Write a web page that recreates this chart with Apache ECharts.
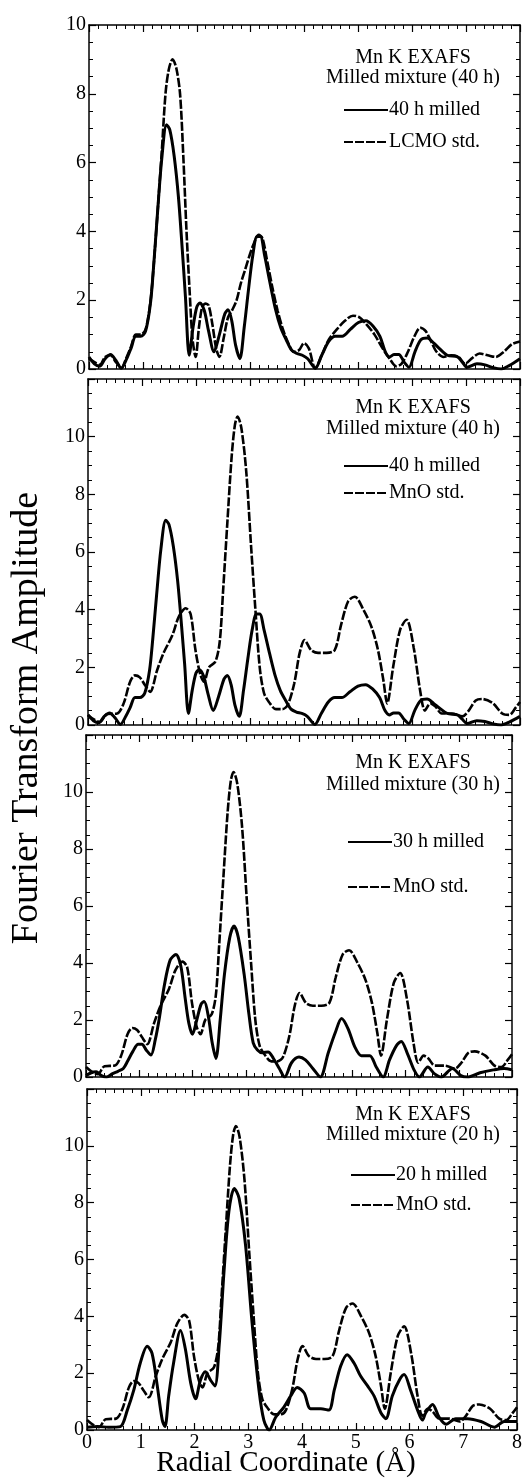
<!DOCTYPE html>
<html>
<head>
<meta charset="utf-8">
<script src="https://cdn.jsdelivr.net/npm/echarts@6/dist/echarts.min.js"></script>
<style>
    html, body {margin: 0; padding: 0; background: #fff;}
    #chart {width: 527px; height: 1480px;}
</style>
</head>
<body>
<div id="chart"></div>
<script>
// radial coordinate (Å), FT amplitude pairs
const milled40 = [[0,0.35],[0.1,0.15],[0.2,0.08],[0.3,0.3],[0.4,0.42],[0.5,0.25],[0.6,0.02],[0.7,0.3],[0.78,0.6],[0.87,0.95],[0.96,0.95],[1.05,1.1],[1.14,1.9],[1.2,3.0],[1.27,4.5],[1.35,6.1],[1.44,7.1],[1.5,6.95],[1.58,6.2],[1.66,5.0],[1.73,3.5],[1.79,2.1],[1.86,0.4],[1.93,1.2],[2.0,1.8],[2.06,1.92],[2.14,1.7],[2.22,1.1],[2.32,0.5],[2.42,1.0],[2.52,1.6],[2.58,1.72],[2.65,1.4],[2.72,0.7],[2.8,0.3],[2.88,1.2],[2.96,2.3],[3.04,3.3],[3.12,3.85],[3.18,3.85],[3.26,3.3],[3.36,2.5],[3.46,1.75],[3.56,1.2],[3.66,0.85],[3.76,0.55],[3.86,0.45],[3.96,0.4],[4.06,0.3],[4.2,0.02],[4.32,0.4],[4.45,0.8],[4.57,0.95],[4.7,0.95],[4.85,1.15],[5.0,1.35],[5.14,1.4],[5.27,1.25],[5.4,0.95],[5.5,0.5],[5.58,0.35],[5.66,0.42],[5.75,0.42],[5.85,0.2],[5.94,0.05],[6.05,0.5],[6.16,0.85],[6.28,0.9],[6.4,0.75],[6.5,0.6],[6.65,0.4],[6.84,0.35],[6.93,0.2],[7.02,0.05],[7.2,0.15],[7.35,0.12],[7.5,0.04],[7.65,0.0],[7.8,0.1],[8,0.3]];

const lcmoStd = [[0,0.3],[0.1,0.2],[0.2,0.12],[0.3,0.35],[0.4,0.4],[0.5,0.2],[0.6,0.04],[0.7,0.35],[0.78,0.65],[0.87,1.0],[0.96,1.0],[1.05,1.15],[1.14,1.95],[1.2,3.0],[1.27,4.5],[1.35,6.3],[1.42,8.0],[1.48,8.7],[1.55,9.0],[1.62,8.75],[1.69,8.0],[1.75,6.2],[1.81,4.0],[1.87,2.2],[1.92,0.9],[1.98,0.35],[2.04,1.2],[2.1,1.8],[2.16,1.9],[2.22,1.85],[2.29,1.3],[2.36,0.6],[2.42,0.35],[2.5,0.9],[2.58,1.5],[2.66,1.72],[2.74,2.0],[2.82,2.5],[2.9,2.9],[2.98,3.3],[3.06,3.65],[3.15,3.9],[3.22,3.8],[3.3,3.2],[3.4,2.4],[3.5,1.7],[3.6,1.15],[3.7,0.75],[3.8,0.5],[3.9,0.55],[3.99,0.75],[4.08,0.6],[4.2,0.02],[4.32,0.4],[4.45,0.85],[4.6,1.15],[4.75,1.4],[4.9,1.55],[5.02,1.5],[5.15,1.3],[5.3,1.0],[5.45,0.6],[5.58,0.3],[5.7,0.08],[5.8,0.15],[5.92,0.5],[6.04,0.95],[6.15,1.2],[6.25,1.1],[6.35,0.8],[6.45,0.5],[6.58,0.35],[6.72,0.4],[6.86,0.35],[6.98,0.15],[7.1,0.3],[7.25,0.45],[7.4,0.4],[7.55,0.35],[7.7,0.5],[7.85,0.72],[8,0.8]];

const mnoStd = [[0,0.35],[0.1,0.2],[0.22,0.1],[0.35,0.38],[0.54,0.4],[0.66,0.75],[0.78,1.5],[0.87,1.72],[0.96,1.65],[1.05,1.4],[1.15,1.15],[1.28,1.9],[1.4,2.5],[1.56,3.1],[1.68,3.75],[1.81,4.05],[1.9,3.85],[1.99,2.6],[2.08,1.75],[2.15,1.5],[2.24,2.0],[2.36,2.2],[2.44,2.9],[2.5,4.6],[2.58,7.0],[2.66,9.3],[2.72,10.4],[2.77,10.7],[2.84,10.3],[2.93,8.8],[3.02,6.2],[3.1,4.0],[3.18,2.0],[3.26,1.1],[3.35,0.8],[3.48,0.55],[3.6,0.55],[3.7,0.7],[3.82,1.45],[3.92,2.5],[4.01,2.95],[4.13,2.6],[4.26,2.5],[4.42,2.5],[4.57,2.6],[4.69,3.5],[4.82,4.3],[4.94,4.45],[5.1,4.0],[5.25,3.4],[5.37,2.6],[5.47,1.55],[5.54,0.75],[5.65,2.0],[5.78,3.3],[5.9,3.65],[6.03,2.7],[6.15,1.2],[6.24,0.5],[6.34,0.75],[6.43,0.65],[6.55,0.4],[6.74,0.4],[6.93,0.3],[7.05,0.5],[7.18,0.85],[7.3,0.9],[7.5,0.75],[7.67,0.4],[7.8,0.35],[7.92,0.6],[8,0.8]];

const milled30 = [[0,0.05],[0.1,0.15],[0.19,0.18],[0.29,0.05],[0.39,0.0],[0.5,0.12],[0.6,0.2],[0.7,0.3],[0.78,0.55],[0.88,0.9],[0.98,1.15],[1.05,1.15],[1.13,0.95],[1.22,0.77],[1.3,1.3],[1.38,2.1],[1.47,3.2],[1.58,4.1],[1.69,4.3],[1.78,3.9],[1.86,2.8],[1.93,1.9],[2.0,1.5],[2.08,2.0],[2.16,2.55],[2.22,2.65],[2.3,2.1],[2.37,1.2],[2.44,0.65],[2.52,2.0],[2.6,3.6],[2.7,4.9],[2.78,5.3],[2.86,4.9],[2.97,3.6],[3.06,2.2],[3.14,1.2],[3.22,0.95],[3.31,0.85],[3.42,0.88],[3.52,0.65],[3.63,0.3],[3.73,0.0],[3.86,0.5],[4.0,0.7],[4.12,0.6],[4.26,0.3],[4.4,0.0],[4.55,0.85],[4.68,1.55],[4.8,2.05],[4.92,1.7],[5.05,1.05],[5.17,0.75],[5.33,0.75],[5.45,0.35],[5.58,0.0],[5.7,0.6],[5.83,1.1],[5.92,1.25],[6.04,0.8],[6.16,0.25],[6.26,0.0],[6.42,0.35],[6.54,0.12],[6.67,0.0],[6.88,0.3],[7.04,0.05],[7.16,0.0],[7.4,0.15],[7.65,0.25],[7.85,0.3],[8,0.25]];

const milled20 = [[0,0.1],[0.2,0.12],[0.4,0.1],[0.62,0.12],[0.75,0.7],[0.87,1.4],[0.99,2.35],[1.12,2.95],[1.21,2.7],[1.3,1.65],[1.4,0.35],[1.45,0.12],[1.52,1.2],[1.61,2.35],[1.74,3.5],[1.83,2.85],[1.93,1.65],[2.02,1.1],[2.11,1.75],[2.2,2.05],[2.3,1.75],[2.38,1.55],[2.46,3.0],[2.55,5.6],[2.64,7.7],[2.74,8.5],[2.83,8.15],[2.95,6.5],[3.07,3.8],[3.2,1.4],[3.29,0.35],[3.39,0.0],[3.51,0.45],[3.66,0.8],[3.79,1.2],[3.91,1.5],[4.04,1.3],[4.16,0.75],[4.35,0.75],[4.5,0.7],[4.6,1.4],[4.72,2.25],[4.84,2.65],[4.97,2.35],[5.09,1.9],[5.22,1.55],[5.34,1.2],[5.47,0.6],[5.56,0.4],[5.68,1.2],[5.81,1.75],[5.9,1.95],[6.02,1.4],[6.15,0.7],[6.24,0.35],[6.3,0.6],[6.43,0.9],[6.55,0.45],[6.68,0.2],[6.86,0.4],[7.08,0.4],[7.33,0.3],[7.58,0.1],[7.76,0.3],[8,0.3]];

const xTicks = [0, 1, 2, 3, 4, 5, 6, 7, 8];
const panelTitles = ['Mn K EXAFS\nMilled mixture (40 h)', 'Mn K EXAFS\nMilled mixture (40 h)',
    'Mn K EXAFS\nMilled mixture (30 h)', 'Mn K EXAFS\nMilled mixture (20 h)'];
const sampleNames = ['40 h milled', '40 h milled', '30 h milled', '20 h milled'];
const stdNames = ['LCMO std.', 'MnO std.', 'MnO std.', 'MnO std.'];
const sampleData = [milled40, milled40, milled30, milled20];
const stdData = [lcmoStd, mnoStd, mnoStd, mnoStd];
const yMax = [10, 12, 12, 12];

// panel boxes in pixels
const panels = [
    {left: 89, right: 7, top: 25, height: 344, titleY: 48, lh: 20, legTop: 100, legGap: 12, legLeft: 343},
    {left: 88, right: 7, top: 379, height: 346, titleY: 397, lh: 21, legTop: 456, legGap: 7, legLeft: 343},
    {left: 86, right: 15, top: 735, height: 342, titleY: 752, lh: 22, legTop: 832, legGap: 25, legLeft: 347},
    {left: 87, right: 10, top: 1089, height: 341, titleY: 1105, lh: 20, legTop: 1165, legGap: 10, legLeft: 350},
];

const FONT = '"Liberation Serif", "Times New Roman", serif';
const black = '#000';

let grid = [], xAxis = [], yAxis = [], series = [], legend = [], graphic = [];

let tick = () => ({show: true, inside: true, length: 7, lineStyle: {color: black, width: 1.2}});
let minor = (n) => ({show: true, splitNumber: n, length: 4, lineStyle: {color: black, width: 1}});
let line = () => ({show: true, onZero: false, lineStyle: {color: black, width: 1.5}});

panels.forEach((p, i) => {
    grid.push({left: p.left, right: p.right, top: p.top, height: p.height});
    ['bottom', 'top'].forEach(pos => {
        xAxis.push({
            gridIndex: i, type: 'value', position: pos, min: 0, max: 8, interval: 1,
            axisLine: line(), axisTick: tick(), minorTick: minor(6), splitLine: {show: false},
            axisLabel: {
                show: pos === 'bottom' && i === 3, margin: 3, color: black, fontSize: 20, fontFamily: FONT,
                formatter: v => xTicks.indexOf(v) >= 0 ? String(v) : ''
            }
        });
    });
    ['left', 'right'].forEach(pos => {
        yAxis.push({
            gridIndex: i, type: 'value', position: pos, min: 0, max: yMax[i], interval: 2,
            axisLine: line(), axisTick: tick(), minorTick: minor(4), splitLine: {show: false},
            axisLabel: {
                show: pos === 'left', margin: 3, color: black, fontSize: 20, fontFamily: FONT,
                formatter: v => v > 10 ? '' : String(v)
            }
        });
    });
    series.push({
        name: sampleNames[i], type: 'line', xAxisIndex: 2 * i, yAxisIndex: 2 * i,
        data: sampleData[i], smooth: 0.3, symbol: 'none', z: 3, color: black,
        lineStyle: {color: black, width: 3}
    });
    series.push({
        name: stdNames[i], type: 'line', xAxisIndex: 2 * i, yAxisIndex: 2 * i,
        data: stdData[i], smooth: 0.3, symbol: 'none', z: 2, color: black,
        lineStyle: {color: black, width: 2.6, type: [9, 2]}
    });
    legend.push({
        data: [sampleNames[i], stdNames[i]], orient: 'vertical', left: p.legLeft, top: p.legTop,
        itemGap: p.legGap, itemWidth: 44, itemHeight: 12, padding: 0, selectedMode: false,
        itemStyle: {opacity: 0},
        textStyle: {color: black, fontSize: 20, fontFamily: FONT, lineHeight: 20, padding: [0, 0, 0, -4]}
    });
    graphic.push({
        type: 'text', x: 413, y: p.titleY,
        style: {text: panelTitles[i], fill: black, fontSize: 20, fontFamily: FONT,
            align: 'center', verticalAlign: 'top', lineHeight: p.lh}
    });
});

graphic.push({
    type: 'text', x: 27, y: 718, rotation: Math.PI / 2,
    style: {text: 'Fourier Transform Amplitude', fill: black, fontSize: 38, fontFamily: FONT,
        align: 'center', verticalAlign: 'middle'}
});
graphic.push({
    type: 'text', x: 286, y: 1463,
    style: {text: 'Radial Coordinate (Å)', fill: black, fontSize: 29, fontFamily: FONT,
        align: 'center', verticalAlign: 'middle'}
});

let myChart = echarts.init(document.getElementById('chart'));
myChart.setOption({
    backgroundColor: '#fff',
    animation: false,
    grid: grid,
    xAxis: xAxis,
    yAxis: yAxis,
    legend: legend,
    graphic: graphic,
    series: series,
});
</script>
</body>
</html>
